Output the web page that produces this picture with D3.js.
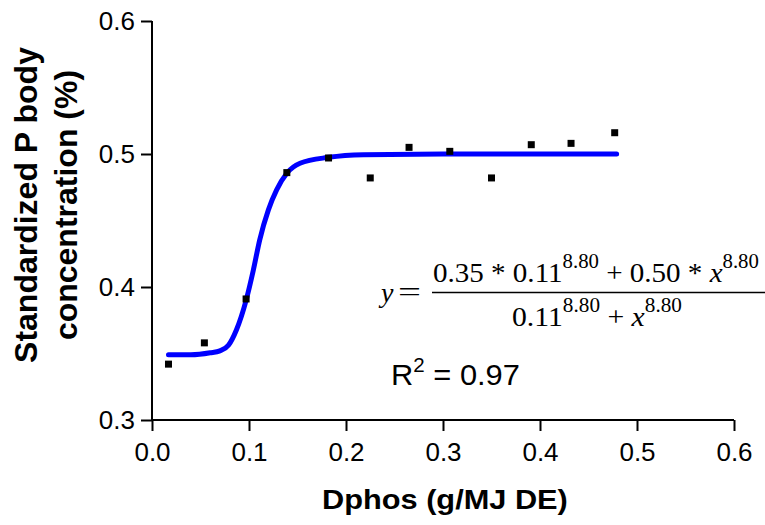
<!DOCTYPE html>
<html><head><meta charset="utf-8">
<script src="https://cdn.jsdelivr.net/npm/d3@7"></script>
<style>
html,body{margin:0;padding:0;background:#fff;}
svg{display:block;}
</style></head>
<body>
<svg id="chart" width="765" height="525"></svg>
<script>
// observed data points (Dphos, standardized P)
const obsX = [0.017, 0.054, 0.097, 0.139, 0.182, 0.225, 0.265, 0.307, 0.350, 0.391, 0.432, 0.477];
const obsY = [0.342, 0.358, 0.391, 0.486, 0.497, 0.482, 0.505, 0.502, 0.482, 0.507, 0.508, 0.516];
// fitted curve points
const fitX = [0.017, 0.040, 0.060, 0.070, 0.079, 0.087, 0.097, 0.1045, 0.111, 0.120, 0.1285, 0.139, 0.1526, 0.182, 0.218, 0.300, 0.400, 0.479];
const fitY = [0.349, 0.349, 0.3505, 0.352, 0.3564, 0.3677, 0.390, 0.4128, 0.4353, 0.458, 0.473, 0.4855, 0.493, 0.4975, 0.4995, 0.500, 0.500, 0.500];
const xTicks = [0.0, 0.1, 0.2, 0.3, 0.4, 0.5, 0.6];
const yTicks = [0.3, 0.4, 0.5, 0.6];

const svg = d3.select("#chart");
const x = d3.scaleLinear().domain([0, 0.6]).range([152, 734]);
const y = d3.scaleLinear().domain([0.3, 0.6]).range([420, 21]);

const sans = "'Liberation Sans', Arial, sans-serif";
const serif = "'Liberation Serif', 'Times New Roman', serif";

// stretch a text element horizontally so that it spans targetW from its left edge x0
function fitWidth(el, x0, targetW) {
  const w = el.node().getBBox().width;
  const k = targetW / w;
  el.attr("transform", `translate(${x0},0) scale(${k},1) translate(${-x0},0)`);
}

// y axis
const ya = svg.append("g").attr("transform", "translate(152,0)")
  .call(d3.axisLeft(y).tickValues(yTicks).tickFormat(d3.format(".1f")).tickSize(11).tickPadding(6));
// x axis
const xa = svg.append("g").attr("transform", "translate(0,420)")
  .call(d3.axisBottom(x).tickValues(xTicks).tickFormat(d3.format(".1f")).tickSize(11).tickPadding(12));
[ya, xa].forEach(a => {
  a.select(".domain").attr("stroke", "#000").attr("stroke-width", 2);
  a.selectAll(".tick line").attr("stroke", "#000").attr("stroke-width", 2);
  a.selectAll(".tick text").attr("fill", "#000").style("font-family", sans).style("font-size", "26px");
});
ya.select(".domain").attr("d", "M0,21V420");
xa.select(".domain").attr("d", "M152,0H734");

// fit curve
const line = d3.line().x((d, i) => x(fitX[i])).y((d, i) => y(fitY[i])).curve(d3.curveMonotoneX);
svg.append("path").datum(fitX).attr("d", line)
  .attr("fill", "none").attr("stroke", "#0000ff").attr("stroke-width", 5)
  .attr("stroke-linecap", "round").attr("stroke-linejoin", "round");

// points
svg.append("g").selectAll("rect").data(obsX).join("rect")
  .attr("x", (d) => x(d) - 3.5).attr("y", (d, i) => y(obsY[i]) - 3.5)
  .attr("width", 7).attr("height", 7).attr("fill", "#000");

// axis titles
const xt = svg.append("text").attr("x", 322).attr("y", 509)
  .style("font-family", sans).style("font-weight", "bold").style("font-size", "28px")
  .text("Dphos (g/MJ DE)");
fitWidth(xt, 322, 246);
const yt = svg.append("text").attr("transform", "translate(0,205) rotate(-90)")
  .attr("text-anchor", "middle")
  .style("font-family", sans).style("font-weight", "bold").style("font-size", "32px");
yt.append("tspan").attr("x", 0).attr("y", 37).text("Standardized P body");
yt.append("tspan").attr("x", 0).attr("y", 77).text("concentration (%)");

// equation
const eq = svg.append("g").style("font-family", serif).style("fill", "#000");
eq.append("text").attr("x", 381).attr("y", 302).style("font-size", "28px").style("font-style", "italic").text("y");
const eqs = eq.append("text").attr("x", 398).attr("y", 301).style("font-size", "28px").text("=");
fitWidth(eqs, 398, 23);
eq.append("line").attr("x1", 432).attr("x2", 765).attr("y1", 292.5).attr("y2", 292.5).attr("stroke", "#000").attr("stroke-width", 1.5);
const num = eq.append("text").attr("x", 433).attr("y", 282).style("font-size", "28px");
num.append("tspan").text("0.35 * 0.11");
num.append("tspan").attr("dy", -14).style("font-size", "20px").text("8.80");
num.append("tspan").attr("dy", 14).text(" + 0.50 * ");
num.append("tspan").style("font-style", "italic").text("x");
num.append("tspan").attr("dy", -14).style("font-size", "20px").text("8.80");
fitWidth(num, 433, 326);
const den = eq.append("text").attr("x", 512).attr("y", 326).style("font-size", "28px");
den.append("tspan").text("0.11");
den.append("tspan").attr("dy", -14).style("font-size", "20px").text("8.80");
den.append("tspan").attr("dy", 14).text(" + ");
den.append("tspan").style("font-style", "italic").text("x");
den.append("tspan").attr("dy", -14).style("font-size", "20px").text("8.80");
fitWidth(den, 512, 170);

// R^2
const r2 = svg.append("text").attr("x", 391).attr("y", 385)
  .style("font-family", sans).style("font-size", "30px").attr("fill", "#000");
r2.append("tspan").text("R");
r2.append("tspan").attr("dy", -13).style("font-size", "20px").text("2");
r2.append("tspan").attr("dy", 13).text(" = 0.97");
fitWidth(r2, 391, 129);
</script>
</body></html>
